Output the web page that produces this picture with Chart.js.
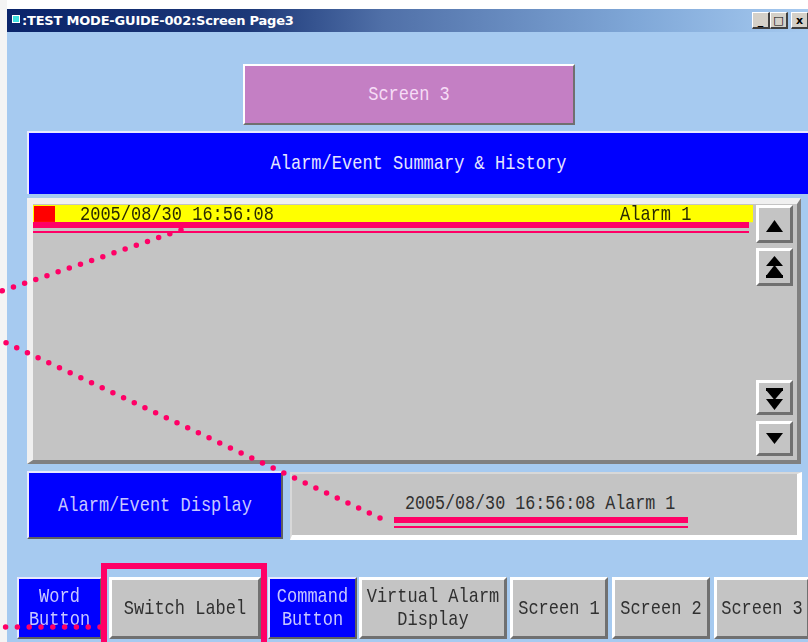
<!DOCTYPE html>
<html>
<head>
<meta charset="utf-8">
<script src="https://cdn.jsdelivr.net/npm/chart.js@4.4.1/dist/chart.umd.min.js"></script>
<style>
  body { margin: 0; width: 808px; height: 642px; overflow: hidden; background: #a6caf0; position: relative; font-family: "Liberation Mono", monospace; }
  .abs { position: absolute; box-sizing: border-box; }
  .btn { display: flex; align-items: center; justify-content: center; text-align: center; font-size: 17px; line-height: 19px; }
  .btn span { display: inline-block; transform: scaleY(1.2); }
  .gray { background: #c4c4c4; color: #303030; border-top: 3px solid #fff; border-left: 3px solid #fff; border-bottom: 3px solid #707070; border-right: 3px solid #707070; }
  .blue { background: #0000ff; color: #c8c8ff; border-top: 2px solid #e8e8ff; border-left: 2px solid #e8e8ff; border-bottom: 2px solid #606060; border-right: 2px solid #606060; }
  .winbtn { background: #d4d0c8; border-top: 1px solid #fff; border-left: 1px solid #fff; border-bottom: 2px solid #404040; border-right: 2px solid #404040; width: 18px; height: 17px; top: 12px; font: bold 11px "DejaVu Sans", sans-serif; display: flex; align-items: center; justify-content: center; color: #000; }
</style>
</head>
<body>
<!-- window chrome -->
<div class="abs" style="left:0;top:0;width:808px;height:9px;background:#fff"></div>
<div class="abs" style="left:0;top:0;width:7px;height:642px;background:#f4f4f4"></div>
<div class="abs" style="left:7px;top:9px;width:801px;height:23px;background:linear-gradient(90deg,#0a246a 0%,#1c3878 30%,#5070a8 47%,#80a8d8 79%,#a6caf0 100%)"></div>
<div class="abs" style="left:12px;top:15px;width:8px;height:8px;background:#40e0e0;border:1px solid #fff"></div>
<div class="abs" style="left:22px;top:11px;color:#fff;font:bold 13px 'DejaVu Sans',sans-serif;line-height:19px;letter-spacing:-0.2px">:TEST MODE-GUIDE-002:Screen Page3</div>
<div class="abs winbtn" style="left:752px">_</div>
<div class="abs winbtn" style="left:770px">&#9633;</div>
<div class="abs winbtn" style="left:791px">x</div>

<!-- header -->
<div class="abs btn" style="left:243px;top:64px;width:332px;height:61px;background:#c47fc4;color:#f6dcf6;border-top:2px solid #fff;border-left:2px solid #fff;border-bottom:2px solid #707070;border-right:2px solid #707070"><span>Screen 3</span></div>
<div class="abs btn" style="left:27px;top:131px;width:781px;height:63px;background:#0000ff;color:#e6e6ff;border-top:2px solid #e8e8ff;border-left:2px solid #e8e8ff"><span>Alarm/Event Summary &amp; History</span></div>

<!-- alarm list panel -->
<div class="abs" style="left:27px;top:198px;width:774px;height:266px;background:#c4c4c4;border-top:6px solid #f0f0f0;border-left:6px solid #f0f0f0;border-bottom:4px solid #808080;border-right:4px solid #808080"></div>
<div class="abs" style="left:33px;top:205px;width:720px;height:254px"><canvas id="alarmList" width="720" height="254"></canvas></div>

<!-- scroll buttons -->
<div class="abs gray" style="left:756px;top:205px;width:37px;height:38px"></div>
<div class="abs gray" style="left:756px;top:248px;width:37px;height:38px"></div>
<div class="abs gray" style="left:756px;top:380px;width:37px;height:35px"></div>
<div class="abs gray" style="left:756px;top:421px;width:37px;height:35px"></div>
<svg class="abs" style="left:0;top:0" width="808" height="642">
  <polygon points="766,232 783,232 774.5,220" fill="#000"/>
  <polygon points="766,266 783,266 774.5,256" fill="#000"/>
  <polygon points="766,276 783,276 774.5,265" fill="#000"/>
  <rect x="766" y="275" width="17" height="3" fill="#000"/>
  <rect x="766" y="388" width="17" height="3" fill="#000"/>
  <polygon points="766,390 783,390 774.5,400" fill="#000"/>
  <polygon points="766,399 783,399 774.5,410" fill="#000"/>
  <polygon points="766,433 783,433 774.5,444" fill="#000"/>
</svg>

<!-- alarm display -->
<div class="abs btn blue" style="left:27px;top:471px;width:256px;height:68px"><span>Alarm/Event Display</span></div>
<div class="abs" style="left:290px;top:472px;width:512px;height:68px;background:#c4c4c4;border-top:2px solid #d8d8d8;border-left:2px solid #d8d8d8;border-bottom:5px solid #fff;border-right:5px solid #fff"></div>
<div class="abs" style="left:405px;top:494px;font-size:16.7px;line-height:20px;color:#303030"><span style="display:inline-block;transform:scaleY(1.25)">2005/08/30 16:56:08 Alarm 1</span></div>

<!-- bottom buttons -->
<div class="abs btn blue" style="left:17px;top:577px;width:85px;height:62px"><span>Word<br>Button</span></div>
<div class="abs btn gray" style="left:109px;top:577px;width:152px;height:62px"><span>Switch Label</span></div>
<div class="abs btn blue" style="left:268px;top:577px;width:89px;height:62px"><span>Command<br>Button</span></div>
<div class="abs btn gray" style="left:359px;top:577px;width:148px;height:62px"><span>Virtual Alarm<br>Display</span></div>
<div class="abs btn gray" style="left:510px;top:577px;width:98px;height:62px"><span>Screen 1</span></div>
<div class="abs btn gray" style="left:612px;top:577px;width:98px;height:62px"><span>Screen 2</span></div>
<div class="abs btn gray" style="left:714px;top:577px;width:96px;height:62px"><span>Screen 3</span></div>

<!-- pink callouts -->
<div class="abs" style="left:101px;top:563px;width:166px;height:92px;border:6px solid #ff0066"></div>
<svg class="abs" style="left:0;top:0" width="808" height="642">
  <rect x="33" y="222" width="716" height="6" fill="#ff0066"/>
  <rect x="33" y="231" width="716" height="2" fill="#ff0066"/>
  <rect x="394" y="517" width="294" height="6" fill="#ff0066"/>
  <rect x="394" y="526" width="294" height="2" fill="#ff0066"/>
  <g stroke="#ff0066" stroke-width="5.5" stroke-linecap="round" stroke-dasharray="0 11.8" fill="none">
    <line x1="181" y1="230" x2="-4" y2="293"/>
    <line x1="380" y1="518" x2="-4" y2="338"/>
    <line x1="100" y1="627" x2="-4" y2="627"/>
  </g>
</svg>

<script>
// alarm history rows
const alarmTimes = ['2005/08/30 16:56:08'];
const alarmNames = ['Alarm 1'];
const alarmActive = [1];
const visibleRows = 15;

const rowLabels = [];
const rowValues = [];
for (let i = 0; i < visibleRows; i++) {
  rowLabels.push(alarmTimes[i] || '');
  rowValues.push(alarmActive[i] !== undefined ? alarmActive[i] : null);
}

// draws the red marker and the alarm text on each row
const alarmText = {
  id: 'alarmText',
  afterDatasetsDraw(chart) {
    const ctx = chart.ctx;
    const meta = chart.getDatasetMeta(0);
    meta.data.forEach((bar, i) => {
      if (rowValues[i] === null) return;
      const top = bar.y - bar.height / 2;
      ctx.save();
      ctx.fillStyle = '#ff0000';
      ctx.fillRect(chart.chartArea.left + 1, top + 1, 21, bar.height - 1);
      ctx.fillStyle = '#2a2a00';
      ctx.font = '17px "Liberation Mono", monospace';
      ctx.textBaseline = 'middle';
      ctx.translate(0, bar.y);
      ctx.scale(1, 1.15);
      ctx.fillText(alarmTimes[i], chart.chartArea.left + 47, 1);
      ctx.fillText(alarmNames[i], chart.chartArea.left + 587, 1);
      ctx.restore();
    });
  }
};

new Chart(document.getElementById('alarmList'), {
  type: 'bar',
  data: {
    labels: rowLabels,
    datasets: [{
      data: rowValues,
      backgroundColor: '#ffff00',
      borderWidth: 0,
      barPercentage: 1,
      categoryPercentage: 1,
    }],
  },
  options: {
    indexAxis: 'y',
    responsive: false,
    animation: false,
    layout: { padding: 0 },
    scales: {
      x: { display: false, min: 0, max: 1 },
      y: { display: false },
    },
    plugins: { legend: { display: false }, tooltip: { enabled: false } },
  },
  plugins: [alarmText],
});
</script>
</body>
</html>
